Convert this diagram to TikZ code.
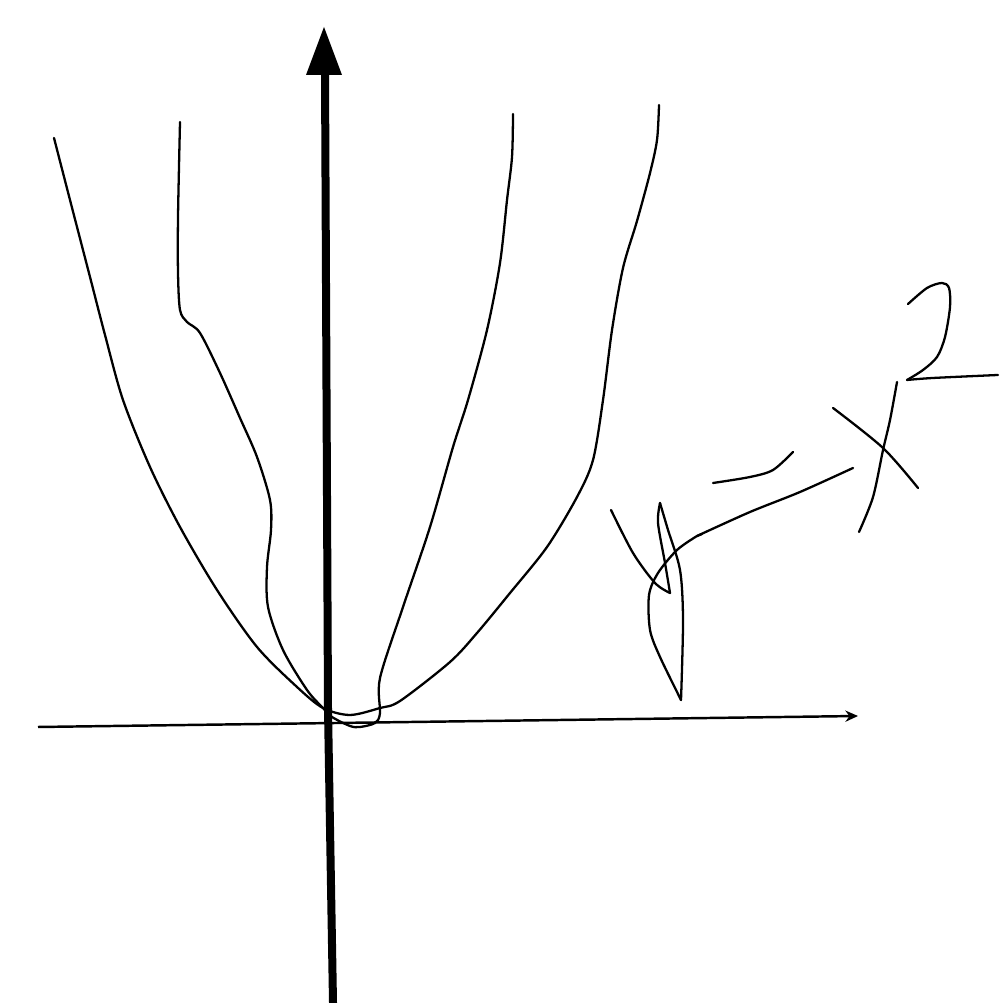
\documentclass[tikz,border=0pt]{standalone}
\usepackage{tikz}
\usetikzlibrary{arrows,arrows.meta}
\tikzset{>=stealth}
\tikzset{sketch/.style={line width=0.65pt, line cap=round, line join=round}}

\begin{document}
\begin{tikzpicture}[inner sep=0pt, outer sep=0pt]
\useasboundingbox (0, 0) rectangle (9.99, 10.03);
% axes
\draw[line width=0.08cm] (3.33, 0) -- (3.28, 2.93) -- (3.25, 9.30);
\fill (3.06, 9.28) -- (3.42, 9.28) -- (3.24, 9.76) -- cycle;
\draw[-{Stealth[length=3.6pt, width=3.2pt]}, line width=0.7pt] (0.38, 2.76) -- (8.58, 2.87);
% outer parabola
\draw[sketch] plot[smooth] coordinates {(0.54, 8.65) (0.70, 8.03) (0.90, 7.26) (1.05, 6.68) (1.23, 6.03) (1.50, 5.36) (1.80, 4.76) (2.17, 4.13) (2.57, 3.56) (2.97, 3.16) (3.23, 2.95) (3.50, 2.88) (3.80, 2.95) (4.00, 3.02) (4.50, 3.41) (4.77, 3.70) (5.10, 4.10) (5.47, 4.56) (5.77, 5.06) (5.93, 5.43) (6.03, 6.03) (6.12, 6.73) (6.23, 7.35) (6.37, 7.82) (6.50, 8.30) (6.57, 8.63) (6.59, 8.98)};
% inner parabola
\draw[sketch] plot[smooth, tension=0.5] coordinates {(1.80, 8.81) (1.78, 7.86) (1.78, 7.30) (1.80, 6.93) (1.87, 6.81) (2.00, 6.70) (2.20, 6.30) (2.40, 5.85) (2.57, 5.46) (2.70, 5.03) (2.71, 4.73) (2.67, 4.36) (2.68, 3.96) (2.83, 3.53) (3.07, 3.13) (3.23, 2.95) (3.32, 2.86) (3.50, 2.77) (3.60, 2.76) (3.75, 2.80) (3.80, 2.90) (3.80, 3.25) (4.03, 3.96) (4.30, 4.76) (4.53, 5.56) (4.68, 6.03) (4.87, 6.73) (5.00, 7.40) (5.07, 8.03) (5.12, 8.46) (5.13, 8.89)};
% y
\draw[sketch] plot[smooth] coordinates {(6.11, 4.93) (6.33, 4.50) (6.55, 4.20) (6.70, 4.10)};
\draw[sketch] plot[smooth] coordinates {(6.70, 4.10) (6.65, 4.40) (6.58, 4.80) (6.60, 5.00)};
\draw[sketch] plot[smooth] coordinates {(6.60, 5.00) (6.68, 4.73) (6.80, 4.33) (6.83, 3.83) (6.81, 3.03)};
\draw[sketch] plot[smooth] coordinates {(8.53, 5.35) (8.00, 5.11) (7.50, 4.91) (6.97, 4.67)};
\draw[sketch] plot[smooth] coordinates {(6.97, 4.67) (6.77, 4.53) (6.58, 4.30) (6.49, 4.08) (6.50, 3.73) (6.60, 3.46) (6.81, 3.03)};
\draw[sketch] (6.97, 4.67) -- (7.02, 4.69);
% =
\draw[sketch] plot[smooth] coordinates {(7.13, 5.20) (7.50, 5.26) (7.73, 5.33) (7.93, 5.51)};
% x
\draw[sketch] plot[smooth] coordinates {(8.33, 5.95) (8.83, 5.55) (9.18, 5.15)};
\draw[sketch] plot[smooth] coordinates {(8.97, 6.21) (8.90, 5.83) (8.83, 5.53) (8.73, 5.06) (8.59, 4.71)};
% 2
\draw[sketch] plot[smooth] coordinates {(9.08, 6.99) (9.27, 7.15) (9.42, 7.20) (9.49, 7.15) (9.50, 6.96) (9.45, 6.66) (9.37, 6.46) (9.23, 6.33) (9.07, 6.23)};
\draw[sketch] plot[smooth] coordinates {(9.07, 6.23) (9.33, 6.25) (9.98, 6.28)};
\end{tikzpicture}
\end{document}
